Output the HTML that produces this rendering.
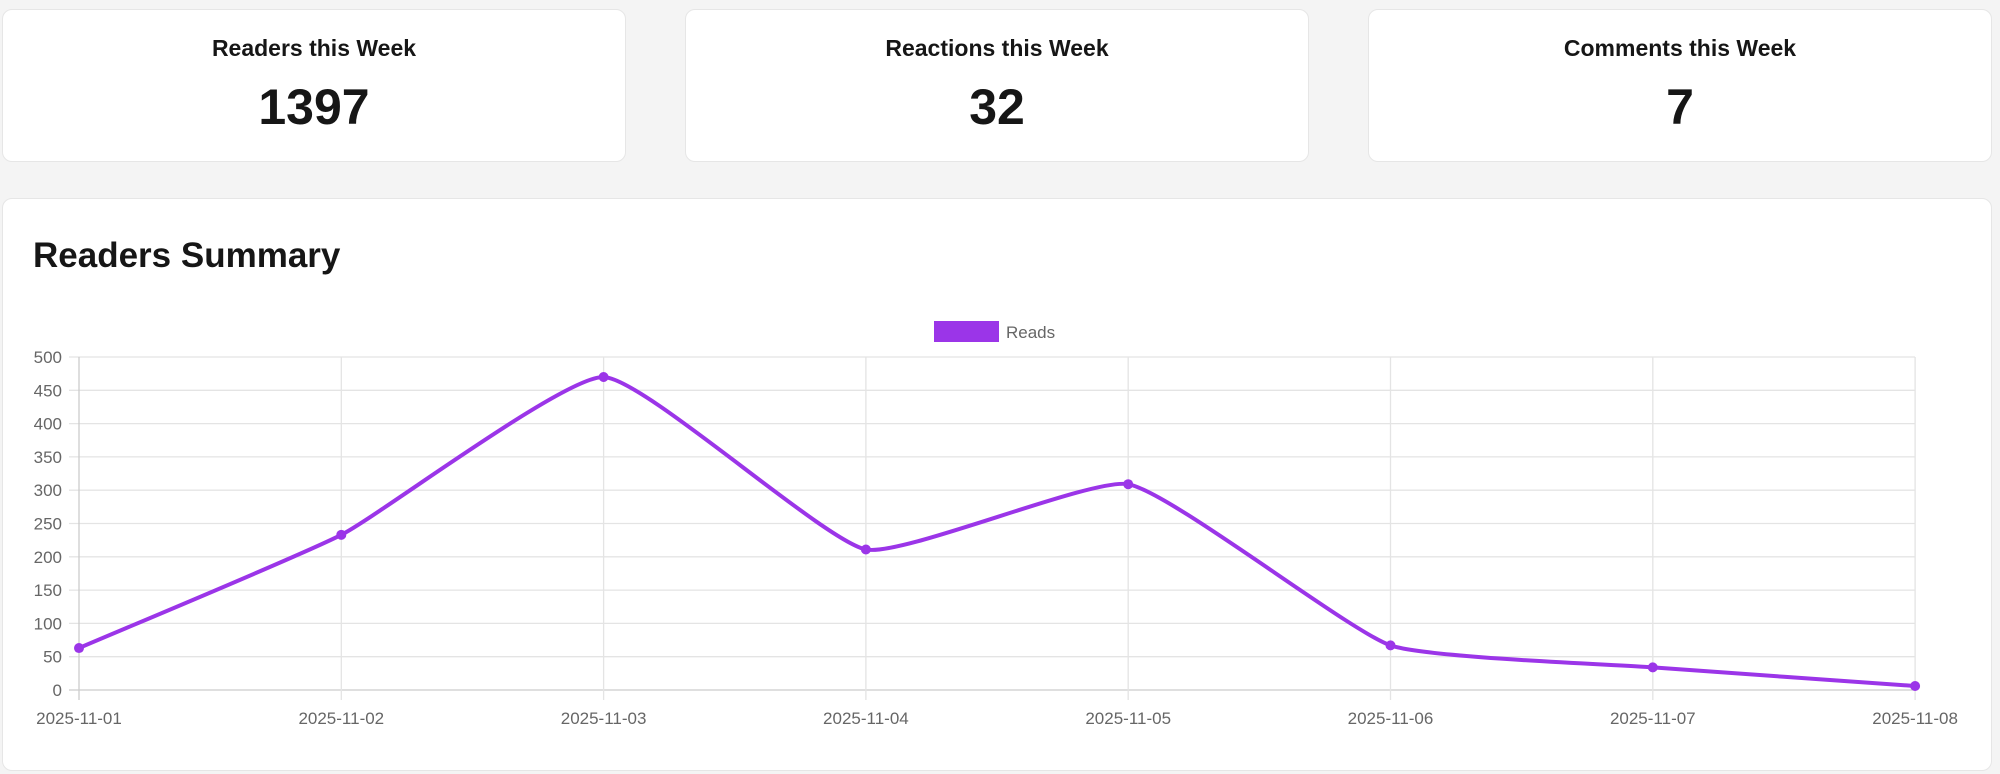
<!DOCTYPE html>
<html><head><meta charset="utf-8"><style>
body{margin:0;width:2000px;height:774px;background:#f4f4f4;font-family:"Liberation Sans",sans-serif;position:relative;overflow:hidden}
.card{position:absolute;background:#fff;border:1px solid #e6e6e6;border-radius:10px;box-sizing:border-box}
.stat{top:9px;height:153px;width:624px;text-align:center;color:#161616}
.stat .t{position:absolute;top:25px;left:0;right:0;font-size:23px;font-weight:bold}
.stat .n{position:absolute;top:68px;left:0;right:0;font-size:50px;font-weight:bold}
</style></head><body>
<div class="card stat" style="left:2px"><div class="t">Readers this Week</div><div class="n">1397</div></div>
<div class="card stat" style="left:685px"><div class="t">Reactions this Week</div><div class="n">32</div></div>
<div class="card stat" style="left:1368px"><div class="t">Comments this Week</div><div class="n">7</div></div>
<div class="card" style="left:2px;top:198px;width:1990px;height:573px"></div>
<div style="position:absolute;left:33px;top:236px;font-size:35px;font-weight:bold;color:#161616">Readers Summary</div>
<svg id="s" width="2000" height="774" style="position:absolute;left:0;top:0" font-family="Liberation Sans, sans-serif"></svg>
<script>
var s=document.getElementById('s'),h='';
var x0=79,dx=262.3,y0=690,k=333/500;
for(var i=0;i<=10;i++){var y=y0-i*50*k;h+='<line x1="69" x2="1915" y1="'+y+'" y2="'+y+'" stroke="'+(i==0?'#ccc':'#e4e4e4')+'" stroke-width="1.3"/>';
h+='<text x="62" y="'+(y+6)+'" text-anchor="end" font-size="17" fill="#666">'+(i*50)+'</text>';}
var d=['2025-11-01','2025-11-02','2025-11-03','2025-11-04','2025-11-05','2025-11-06','2025-11-07','2025-11-08'];
for(var i=0;i<8;i++){var x=x0+i*dx;h+='<line x1="'+x+'" x2="'+x+'" y1="357" y2="700" stroke="'+(i==0?'#ccc':'#e4e4e4')+'" stroke-width="1.3"/>';
h+='<text x="'+x+'" y="724" text-anchor="middle" font-size="17" fill="#666">'+d[i]+'</text>';}
var v=[63,233,470,211,309,67,34,6],p=v.map(function(a,i){return[x0+i*dx,y0-a*k]});
var T=0.15;
var cp=p.map(function(c,i){var a=p[i-1]||c,b=p[i+1]||c,d1=Math.hypot(c[0]-a[0],c[1]-a[1]),d2=Math.hypot(b[0]-c[0],b[1]-c[1]),s1=d1/(d1+d2)||0,s2=d2/(d1+d2)||0,fa=T*s1,fb=T*s2;
return{p:[c[0]-fa*(b[0]-a[0]),c[1]-fa*(b[1]-a[1])],n:[c[0]+fb*(b[0]-a[0]),c[1]+fb*(b[1]-a[1])]}});
var path='M'+p[0];for(var i=1;i<8;i++)path+=' C'+cp[i-1].n+' '+cp[i].p+' '+p[i];
h+='<path d="'+path+'" fill="none" stroke="#9b35e8" stroke-width="4"/>';
p.forEach(function(c){h+='<circle cx="'+c[0]+'" cy="'+c[1]+'" r="5" fill="#9b35e8"/>'});
h+='<rect x="934" y="321" width="65" height="21" fill="#9b35e8"/><text x="1006" y="338" font-size="17" fill="#666">Reads</text>';
s.innerHTML=h;
</script>
</body></html>
